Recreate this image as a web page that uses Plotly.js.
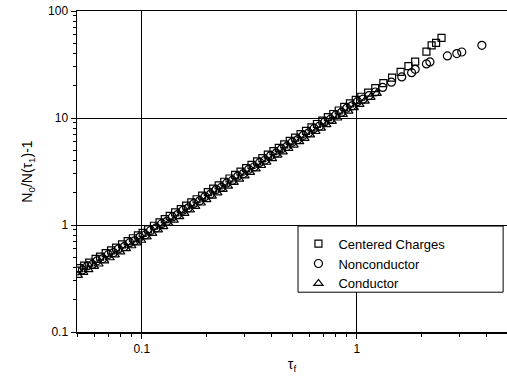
<!DOCTYPE html>
<html>
<head>
<meta charset="utf-8">
<script src="https://cdn.plot.ly/plotly-3.0.1.min.js"></script>
<style>
html,body{margin:0;padding:0;background:#fff;}
#chart{width:507px;height:382px;}
</style>
</head>
<body>
<div id="chart"></div>
<script>
// Centered Charges (squares)
var ccX = [0.051,0.054,0.057,0.061,0.064,0.068,0.072,0.076,0.081,0.086,0.091,0.096,0.101,0.107,0.114,0.121,0.128,0.135,0.143,0.152,0.161,0.170,0.180,0.191,0.203,0.215,0.228,0.242,0.256,0.272,0.288,0.306,0.324,0.344,0.364,0.386,0.410,0.434,0.460,0.488,0.517,0.548,0.581,0.616,0.653,0.692,0.734,0.778,0.825,0.875,0.93,0.99,1.05,1.13,1.22,1.33,1.46,1.60,1.74,1.87,2.11,2.23,2.34,2.48];
var ccY = [0.395,0.418,0.445,0.482,0.506,0.545,0.578,0.615,0.659,0.707,0.752,0.799,0.845,0.91,0.984,1.06,1.135,1.215,1.31,1.41,1.515,1.63,1.74,1.885,2.03,2.185,2.35,2.535,2.72,2.935,3.15,3.40,3.65,3.935,4.22,4.54,4.9,5.26,5.67,6.1,6.56,7.06,7.59,8.17,8.79,9.45,10.2,10.9,11.75,12.7,13.7,14.8,15.8,17.3,19.0,21.2,23.8,27.0,30.6,33.6,41.7,47.8,50.4,56.0];

// Nonconductor (circles)
var ncX = [0.050,0.053,0.056,0.059,0.062,0.066,0.070,0.074,0.078,0.083,0.088,0.093,0.098,0.104,0.110,0.117,0.124,0.131,0.139,0.147,0.156,0.165,0.175,0.186,0.197,0.209,0.222,0.235,0.249,0.264,0.280,0.297,0.315,0.334,0.354,0.375,0.398,0.422,0.447,0.474,0.502,0.532,0.564,0.598,0.634,0.672,0.712,0.755,0.80,0.85,0.90,0.95,1.01,1.07,1.14,1.22,1.32,1.45,1.62,1.80,1.87,2.11,2.19,2.64,2.92,3.08,3.82];
var ncY = [0.372,0.380,0.415,0.428,0.463,0.486,0.530,0.552,0.598,0.628,0.684,0.713,0.771,0.811,0.888,0.941,1.03,1.083,1.19,1.252,1.376,1.447,1.59,1.682,1.843,1.946,2.142,2.254,2.473,2.609,2.865,3.023,3.32,3.504,3.845,4.051,4.453,4.698,5.151,5.434,5.958,6.281,6.894,7.272,7.984,8.419,9.235,9.743,10.69,11.31,12.39,13.0,14.3,15.0,16.2,17.5,19.3,21.6,24.2,26.5,28.5,32.0,33.4,38.0,40.0,41.4,47.8];

// Conductor (triangles)
var cdX = [0.0505,0.0535,0.0565,0.060,0.063,0.067,0.071,0.075,0.0795,0.0845,0.0895,0.0945,0.0995,0.1055,0.112,0.119,0.126,0.133,0.141,0.1495,0.158,0.1675,0.1775,0.1885,0.200,0.212,0.225,0.238,0.252,0.268,0.284,0.301,0.319,0.339,0.359,0.380,0.404,0.428,0.453,0.481,0.509,0.540,0.572,0.607,0.643,0.682,0.723,0.766,0.812,0.862,0.915,0.97,1.03,1.09,1.16,1.24];
var cdY = [0.338,0.360,0.383,0.410,0.432,0.463,0.494,0.525,0.561,0.601,0.640,0.681,0.720,0.775,0.835,0.90,0.967,1.035,1.11,1.20,1.285,1.385,1.49,1.605,1.73,1.86,2.00,2.15,2.31,2.50,2.68,2.88,3.105,3.345,3.60,3.86,4.17,4.49,4.82,5.19,5.57,6.01,6.45,6.955,7.48,8.05,8.66,9.31,10.0,10.8,11.6,12.5,13.4,14.4,15.6,17.0];

var seriesNames = ["Centered Charges", "Nonconductor", "Conductor"];
var xTickVals = [0.1, 1];
var xTickText = ["0.1", "1"];
var yTickVals = [0.1, 1, 10, 100];
var yTickText = ["0.1", "1", "10", "100"];
var xMinor = [0.05,0.06,0.07,0.08,0.09,0.2,0.3,0.4,0.5,0.6,0.7,0.8,0.9,2,3,4,5];
var yMinor = [0.2,0.3,0.4,0.5,0.6,0.7,0.8,0.9,2,3,4,5,6,7,8,9,20,30,40,50,60,70,80,90];

function mk(sym, size) {
  return {symbol: sym, size: size, color: "#000", line: {color: "#000", width: 1.2}};
}

var traces = [
  {x: ccX, y: ccY, name: seriesNames[0], mode: "markers", type: "scatter", marker: mk("square-open", 7)},
  {x: ncX, y: ncY, name: seriesNames[1], mode: "markers", type: "scatter", marker: mk("circle-open", 8)},
  {x: cdX, y: cdY, name: seriesNames[2], mode: "markers", type: "scatter", marker: mk("triangle-up-open", 8)}
];

var font = {family: "Liberation Sans, Arial, sans-serif", color: "#000"};

var layout = {
  width: 507, height: 382,
  margin: {l: 77, r: 0, t: 11, b: 50},
  paper_bgcolor: "#fff", plot_bgcolor: "#fff",
  font: {family: font.family, size: 12, color: "#000"},
  showlegend: true,
  legend: {
    x: 0.515, y: 0.322, xanchor: "left", yanchor: "top",
    bgcolor: "rgba(0,0,0,0)", borderwidth: 0,
    font: {family: font.family, size: 13, color: "#000"},
    itemclick: false
  },
  shapes: [{
    type: "rect", xref: "paper", yref: "paper", layer: "above",
    x0: 0.514, x1: 0.991, y0: 0.124, y1: 0.33,
    line: {color: "#000", width: 1}, fillcolor: "#fff"
  }],
  xaxis: {
    type: "log", range: [Math.log10(0.05), Math.log10(5)],
    tickmode: "array", tickvals: xTickVals, ticktext: xTickText,
    ticks: "outside", ticklen: 5, tickwidth: 1, tickcolor: "#000",
    showgrid: true, gridcolor: "#000", gridwidth: 1,
    showline: true, linecolor: "#000", linewidth: 1.5, mirror: true,
    zeroline: false,
    tickfont: {family: font.family, size: 12, color: "#000"},
    minor: {tickmode: "array", tickvals: xMinor, ticks: "outside", ticklen: 3, tickcolor: "#000", showgrid: false},
    title: {text: "τ<sub>f</sub>", font: {family: font.family, size: 14, color: "#000"}, standoff: 4}
  },
  yaxis: {
    type: "log", range: [-1, 2],
    tickmode: "array", tickvals: yTickVals, ticktext: yTickText,
    ticks: "outside", ticklen: 5, tickwidth: 1, tickcolor: "#000",
    showgrid: true, gridcolor: "#000", gridwidth: 1,
    showline: true, linecolor: "#000", linewidth: 1.5, mirror: false,
    zeroline: false,
    tickfont: {family: font.family, size: 12, color: "#000"},
    minor: {tickmode: "array", tickvals: yMinor, ticks: "outside", ticklen: 3, tickcolor: "#000", showgrid: false},
    title: {text: "N<sub>0</sub>/N(τ<sub>1</sub>)-1", font: {family: font.family, size: 14, color: "#000"}, standoff: 12}
  }
};

Plotly.newPlot("chart", traces, layout, {displayModeBar: false, staticPlot: true});
</script>
</body>
</html>
